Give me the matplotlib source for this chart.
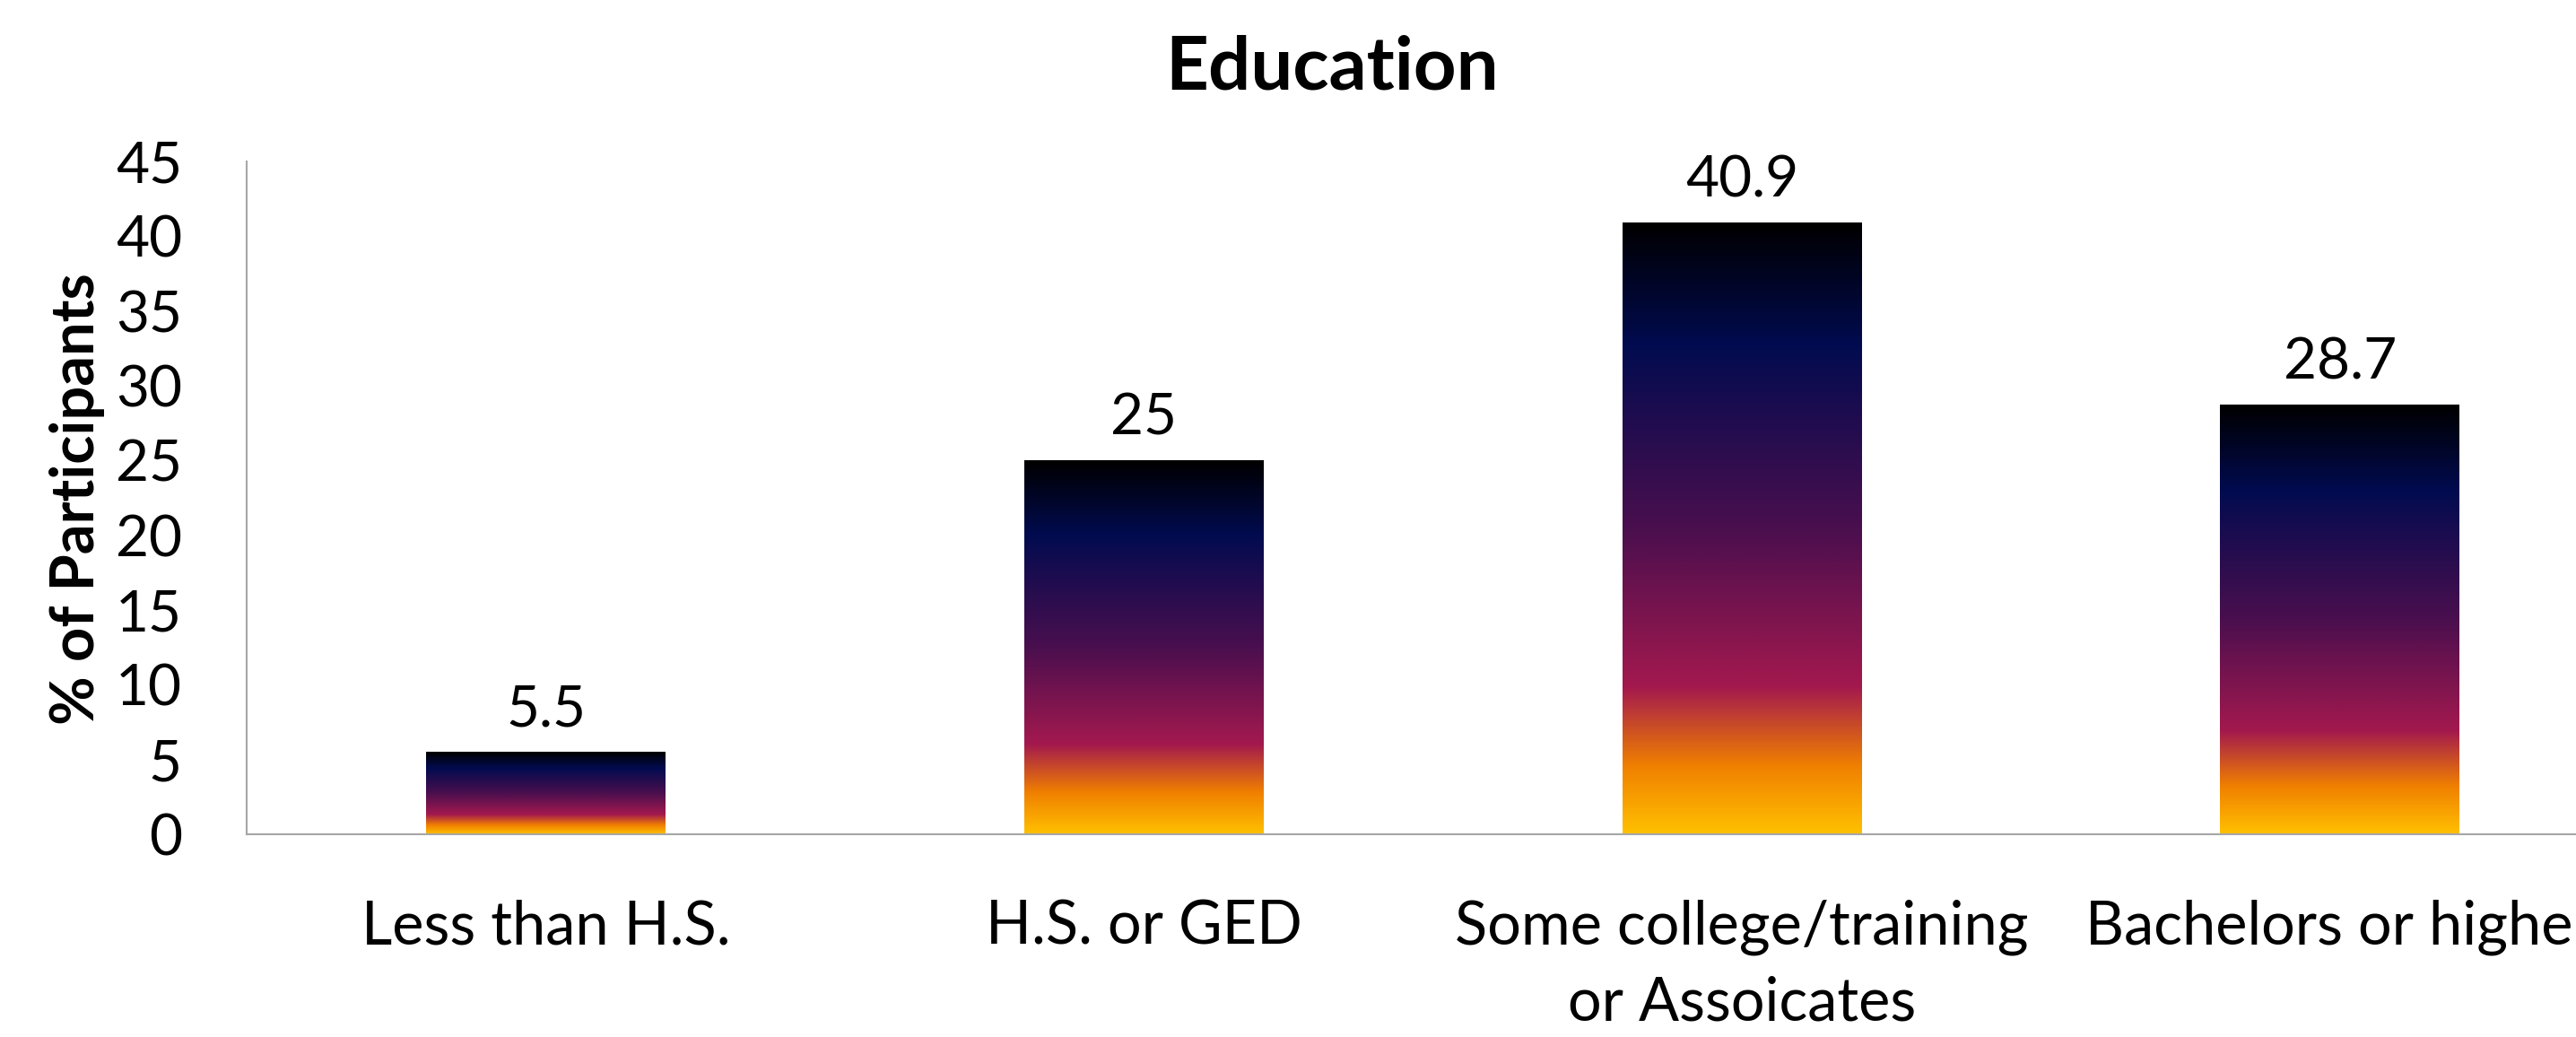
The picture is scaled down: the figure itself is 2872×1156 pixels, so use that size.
import numpy as np
import matplotlib.pyplot as plt
from matplotlib.colors import LinearSegmentedColormap

plt.rcParams['font.family'] = ['Lato', 'DejaVu Sans']

categories = ['Less than H.S.', 'H.S. or GED',
              'Some college/training\nor Assoicates', 'Bachelors or higher']
percent = [5.5, 25, 40.9, 28.7]
yticks = [0, 5, 10, 15, 20, 25, 30, 35, 40, 45]

# sunset fill, runs from the top of each bar down to its base
sunset = LinearSegmentedColormap.from_list('sunset', [
    (0.0, '#000000'), (0.2, '#020b50'), (0.5, '#4a0f4e'),
    (0.76, '#a3194e'), (0.89, '#f08000'), (1.0, '#ffc000')])

fig = plt.figure(figsize=(28.72, 11.56), dpi=100)
ax = fig.add_axes([0.0958, 0.1955, 0.9286, 0.6488])

x = np.arange(len(categories))
bars = ax.bar(x, percent, width=0.4, color='none', edgecolor='none')
grad = np.linspace(0, 1, 512).reshape(-1, 1)
for b in bars:
    x0 = b.get_x()
    ax.imshow(grad, cmap=sunset, aspect='auto', interpolation='bilinear',
              extent=(x0, x0 + b.get_width(), 0, b.get_height()), zorder=2)

for xi, v in zip(x, percent):
    ax.annotate(f'{v:g}', (xi, v), xytext=(0, 21), textcoords='offset points',
                ha='center', va='baseline', fontsize=46)

ax.set_xlim(-0.5, 3.5)
ax.set_ylim(0, 45)
ax.set_yticks(yticks)
ax.set_xticks(x, categories)
for lbl in ax.get_xticklabels():
    lbl.set_linespacing(1.45)
    lbl.set_fontsize(48)

ax.tick_params(length=0)
ax.tick_params(axis='y', pad=52, labelsize=46)
ax.tick_params(axis='x', pad=52)

for side in ['top', 'right']:
    ax.spines[side].set_visible(False)
for side in ['left', 'bottom']:
    ax.spines[side].set_color('#a6a6a6')
    ax.spines[side].set_linewidth(1.5)

fig.text(0.517, 1 - 99 / 1156, 'Education', ha='center', va='baseline',
         fontsize=60, fontweight='bold')
fig.text(86 / 2872, 1 - 556 / 1156, '% of Participants', rotation=90,
         ha='center', va='center', fontsize=48, fontweight='bold')

fig.savefig('out.png', dpi=100)
